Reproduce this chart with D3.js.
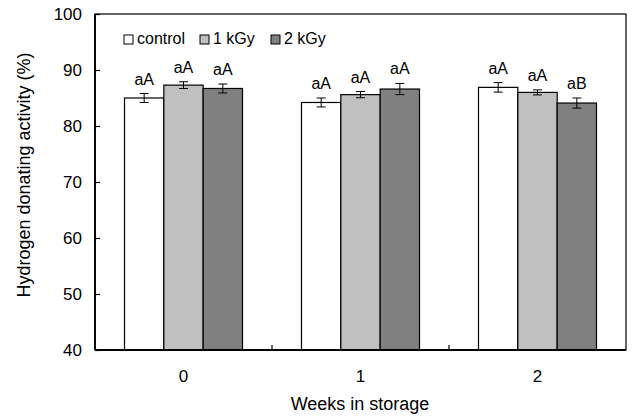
<!DOCTYPE html>
<html>
<head>
<meta charset="utf-8">
<script src="https://cdn.jsdelivr.net/npm/d3@7"></script>
<style>
  html, body { margin: 0; padding: 0; background: #fff; }
  svg text { font-family: "Liberation Sans", Arial, sans-serif; fill: #000; }
</style>
</head>
<body>
<svg id="chart" width="633" height="417"></svg>
<script>
// Weeks of storage on the x axis
const weeks = ["0", "1", "2"];
// Irradiation treatments
const treatments = ["control", "1 kGy", "2 kGy"];
const fills = ["#ffffff", "#c0c0c0", "#808080"];
// Mean hydrogen donating activity (%) per treatment, one value per week
const control = [85.0, 84.2, 86.9];
const kGy1 = [87.3, 85.6, 86.0];
const kGy2 = [86.7, 86.6, 84.1];
// Standard deviations
const controlErr = [0.8, 0.8, 0.85];
const kGy1Err = [0.6, 0.55, 0.45];
const kGy2Err = [0.8, 1.0, 0.9];
// Significance letters
const controlSig = ["aA", "aA", "aA"];
const kGy1Sig = ["aA", "aA", "aA"];
const kGy2Sig = ["aA", "aA", "aB"];
const yTicks = [40, 50, 60, 70, 80, 90, 100];

const series = [
  { name: treatments[0], values: control, errs: controlErr, sig: controlSig, fill: fills[0] },
  { name: treatments[1], values: kGy1, errs: kGy1Err, sig: kGy1Sig, fill: fills[1] },
  { name: treatments[2], values: kGy2, errs: kGy2Err, sig: kGy2Sig, fill: fills[2] }
];

const svg = d3.select("#chart");
const m = { left: 95, right: 626, top: 14, bottom: 350 };

const x = d3.scaleBand().domain(weeks).range([m.left, m.right]).padding(0);
const barW = x.bandwidth() / 4.5;
const xs = d3.scaleBand().domain(treatments)
  .range([x.bandwidth() / 2 - 1.5 * barW, x.bandwidth() / 2 + 1.5 * barW]).padding(0);
const y = d3.scaleLinear().domain([40, 100]).range([m.bottom, m.top]);

// bars
const g = svg.append("g");
series.forEach(s => {
  weeks.forEach((w, i) => {
    const bx = x(w) + xs(s.name);
    g.append("rect")
      .attr("x", bx).attr("y", y(s.values[i]))
      .attr("width", xs.bandwidth()).attr("height", y(40) - y(s.values[i]))
      .attr("fill", s.fill).attr("stroke", "#000").attr("stroke-width", 1.2);
    const cx = bx + xs.bandwidth() / 2;
    const hi = y(s.values[i] + s.errs[i]);
    const lo = y(s.values[i] - s.errs[i]);
    g.append("line").attr("x1", cx).attr("x2", cx).attr("y1", hi).attr("y2", lo)
      .attr("stroke", "#000").attr("stroke-width", 1);
    [hi, lo].forEach(yy => g.append("line")
      .attr("x1", cx - 4.5).attr("x2", cx + 4.5).attr("y1", yy).attr("y2", yy)
      .attr("stroke", "#000").attr("stroke-width", 1));
    g.append("text").attr("x", cx).attr("y", hi - 9)
      .attr("text-anchor", "middle").attr("font-size", 16).text(s.sig[i]);
  });
});

// frame
svg.append("rect").attr("x", m.left).attr("y", m.top)
  .attr("width", m.right - m.left).attr("height", m.bottom - m.top)
  .attr("fill", "none").attr("stroke", "#000").attr("stroke-width", 1.2);
svg.append("line").attr("x1", m.left).attr("x2", m.left).attr("y1", m.top).attr("y2", m.bottom)
  .attr("stroke", "#000").attr("stroke-width", 1.8);
svg.append("line").attr("x1", m.left).attr("x2", m.right).attr("y1", m.bottom).attr("y2", m.bottom)
  .attr("stroke", "#000").attr("stroke-width", 1.8);

// y axis
const yAxis = d3.axisLeft(y).tickValues(yTicks).tickSizeInner(-5).tickSizeOuter(0).tickPadding(13);
const ya = svg.append("g").attr("transform", `translate(${m.left},0)`).call(yAxis);
ya.select(".domain").remove();
ya.selectAll(".tick line").attr("stroke", "#000").attr("stroke-width", 1.2);
ya.selectAll(".tick text").attr("font-size", 17).attr("font-family", "Liberation Sans, Arial, sans-serif");

// x axis: labels centred on bands, tick marks on band boundaries
const xa = svg.append("g").attr("transform", `translate(0,${m.bottom})`)
  .call(d3.axisBottom(x).tickSize(0).tickPadding(20));
xa.select(".domain").remove();
xa.selectAll(".tick text").attr("font-size", 17).attr("font-family", "Liberation Sans, Arial, sans-serif");
weeks.slice(1).forEach(w => svg.append("line")
  .attr("x1", x(w)).attr("x2", x(w)).attr("y1", m.bottom).attr("y2", m.bottom - 5)
  .attr("stroke", "#000").attr("stroke-width", 1.2));

// axis titles
svg.append("text").attr("x", 360).attr("y", 410).attr("text-anchor", "middle")
  .attr("font-size", 18).text("Weeks in storage");
svg.append("text").attr("transform", "translate(30,175) rotate(-90)")
  .attr("text-anchor", "middle").attr("font-size", 18).text("Hydrogen donating activity (%)");

// legend
const legendX = [124, 200, 271];
series.forEach((s, i) => {
  svg.append("rect").attr("x", legendX[i]).attr("y", 35).attr("width", 9).attr("height", 9)
    .attr("fill", s.fill).attr("stroke", "#000").attr("stroke-width", 1);
  svg.append("text").attr("x", legendX[i] + 13).attr("y", 44).attr("font-size", 16).text(s.name);
});
</script>
</body>
</html>
